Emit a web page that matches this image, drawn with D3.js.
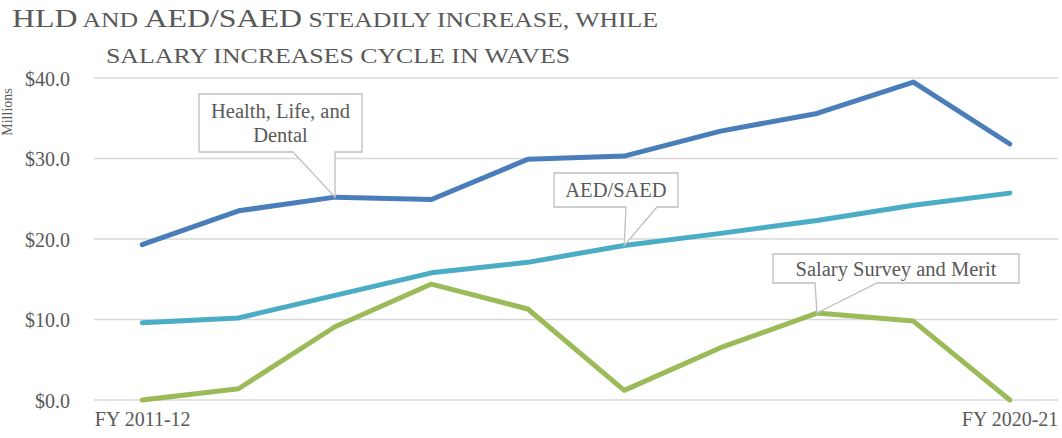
<!DOCTYPE html>
<html><head><meta charset="utf-8">
<script src="https://cdn.jsdelivr.net/npm/d3@7"></script>
<style>body{margin:0;background:#fff}svg{display:block}</style>
</head><body>
<svg id="c" width="1062" height="438"></svg>
<script>
const categories = ["FY 2011-12","FY 2012-13","FY 2013-14","FY 2014-15","FY 2015-16","FY 2016-17","FY 2017-18","FY 2018-19","FY 2019-20","FY 2020-21"];
const hld    = [19.3, 23.5, 25.2, 24.9, 29.9, 30.3, 33.4, 35.6, 39.5, 31.8];
const aed    = [9.6, 10.2, 13.0, 15.8, 17.1, 19.2, 20.7, 22.3, 24.2, 25.7];
const salary = [0.0, 1.4, 9.1, 14.4, 11.3, 1.2, 6.5, 10.8, 9.8, 0.0];
const yTicks = [0, 10, 20, 30, 40];
const xTickLabels = ["FY 2011-12", "FY 2020-21"];
const seriesNames = ["Health, Life, and Dental", "AED/SAED", "Salary Survey and Merit"];

const FONT = "'Liberation Serif','Times New Roman',serif";
const GRAY = "#595959";
const svg = d3.select("#c");

const x = d3.scalePoint().domain(categories).range([94, 1058]).padding(0.5);
const y = d3.scaleLinear().domain([0, 40]).range([400, 78]);

// gridlines
svg.append("g").selectAll("line").data(yTicks).join("line")
  .attr("x1", 94).attr("x2", 1058)
  .attr("y1", d => y(d)).attr("y2", d => y(d))
  .attr("stroke", "#d9d9d9").attr("stroke-width", 1.5);

// y axis labels
const yAxis = d3.axisLeft(y).tickValues(yTicks).tickSize(0).tickPadding(0)
  .tickFormat(d => "$" + d3.format(".1f")(d));
const gy = svg.append("g").attr("transform", "translate(70,0)").call(yAxis);
gy.select(".domain").remove();
gy.attr("font-family", FONT);
gy.selectAll("text").attr("font-family", FONT).attr("font-size", 20).attr("fill", GRAY).attr("dy", "0.36em");

// x axis labels
const xAxis = d3.axisBottom(x).tickSize(0).tickPadding(0)
  .tickFormat(d => xTickLabels.includes(d) ? d : "");
const gx = svg.append("g").attr("transform", "translate(0,412)").call(xAxis);
gx.select(".domain").remove();
gx.attr("font-family", FONT);
gx.selectAll("text").attr("font-family", FONT).attr("font-size", 20).attr("fill", GRAY)
  .attr("dy", "0.72em");
gx.selectAll(".tick text").filter(d => d === categories[categories.length-1]).attr("text-anchor", "end").attr("dx", 48);

// Millions label
svg.append("text").attr("transform", "translate(12,112) rotate(-90)")
  .attr("text-anchor", "middle").attr("font-family", FONT).attr("font-size", 14)
  .attr("fill", GRAY).text("Millions");

// lines
const series = [
  {vals: hld, color: "#4a7ebb"},
  {vals: aed, color: "#4bacc6"},
  {vals: salary, color: "#9bbb59"}
];
const line = d3.line().x((d, i) => x(categories[i])).y(d => y(d));
svg.append("g").selectAll("path").data(series).join("path")
  .attr("d", d => line(d.vals)).attr("fill", "none")
  .attr("stroke", d => d.color).attr("stroke-width", 5)
  .attr("stroke-linejoin", "round").attr("stroke-linecap", "round");

// callouts
const callouts = [
  {vals: hld, idx: 2, lines: ["Health, Life, and", "Dental"], box: [199, 94, 163, 58], p1: 293, p2: 335},
  {vals: aed, idx: 5, lines: ["AED/SAED"], box: [554, 173, 124, 34], p1: 626, p2: 657},
  {vals: salary, idx: 7, lines: ["Salary Survey and Merit"], box: [773, 254, 246, 29], p1: 815, p2: 877}
];
callouts.forEach((c, k) => {
  const px = x(categories[c.idx]), py = y(c.vals[c.idx]);
  const [bx, by, bw, bh] = c.box;
  const g = svg.append("g");
  const path = [
    [bx, by], [bx + bw, by], [bx + bw, by + bh], [c.p2, by + bh], [px, py], [c.p1, by + bh], [bx, by + bh]
  ];
  g.append("path").attr("d", "M" + path.map(p => p.join(",")).join("L") + "Z")
    .attr("fill", "#fff").attr("stroke", "#bfbfbf").attr("stroke-width", 1.3);
  const cx = bx + bw / 2;
  const lh = 24;
  const startY = by + bh / 2 - (c.lines.length - 1) * lh / 2;
  c.lines.forEach((t, i) => {
    g.append("text").attr("x", cx).attr("y", startY + i * lh).attr("dy", "0.35em")
      .attr("text-anchor", "middle").attr("font-family", FONT).attr("font-size", 20.5)
      .attr("fill", GRAY).text(t);
  });
});

// title (small caps, horizontally widened like the reference)
const t1 = svg.append("text").attr("transform", "translate(12,27) scale(1.225,1)")
  .attr("font-family", FONT).attr("fill", GRAY);
[["HLD", 26], [" AND ", 21], ["AED/SAED", 26], [" STEADILY INCREASE, WHILE", 21]].forEach(([s, f]) =>
  t1.append("tspan").attr("font-size", f).text(s));
svg.append("text").attr("transform", "translate(106,63) scale(1.23,1)").attr("font-family", FONT).attr("fill", GRAY)
  .attr("font-size", 21).text("SALARY INCREASES CYCLE IN WAVES");
</script>
</body></html>
